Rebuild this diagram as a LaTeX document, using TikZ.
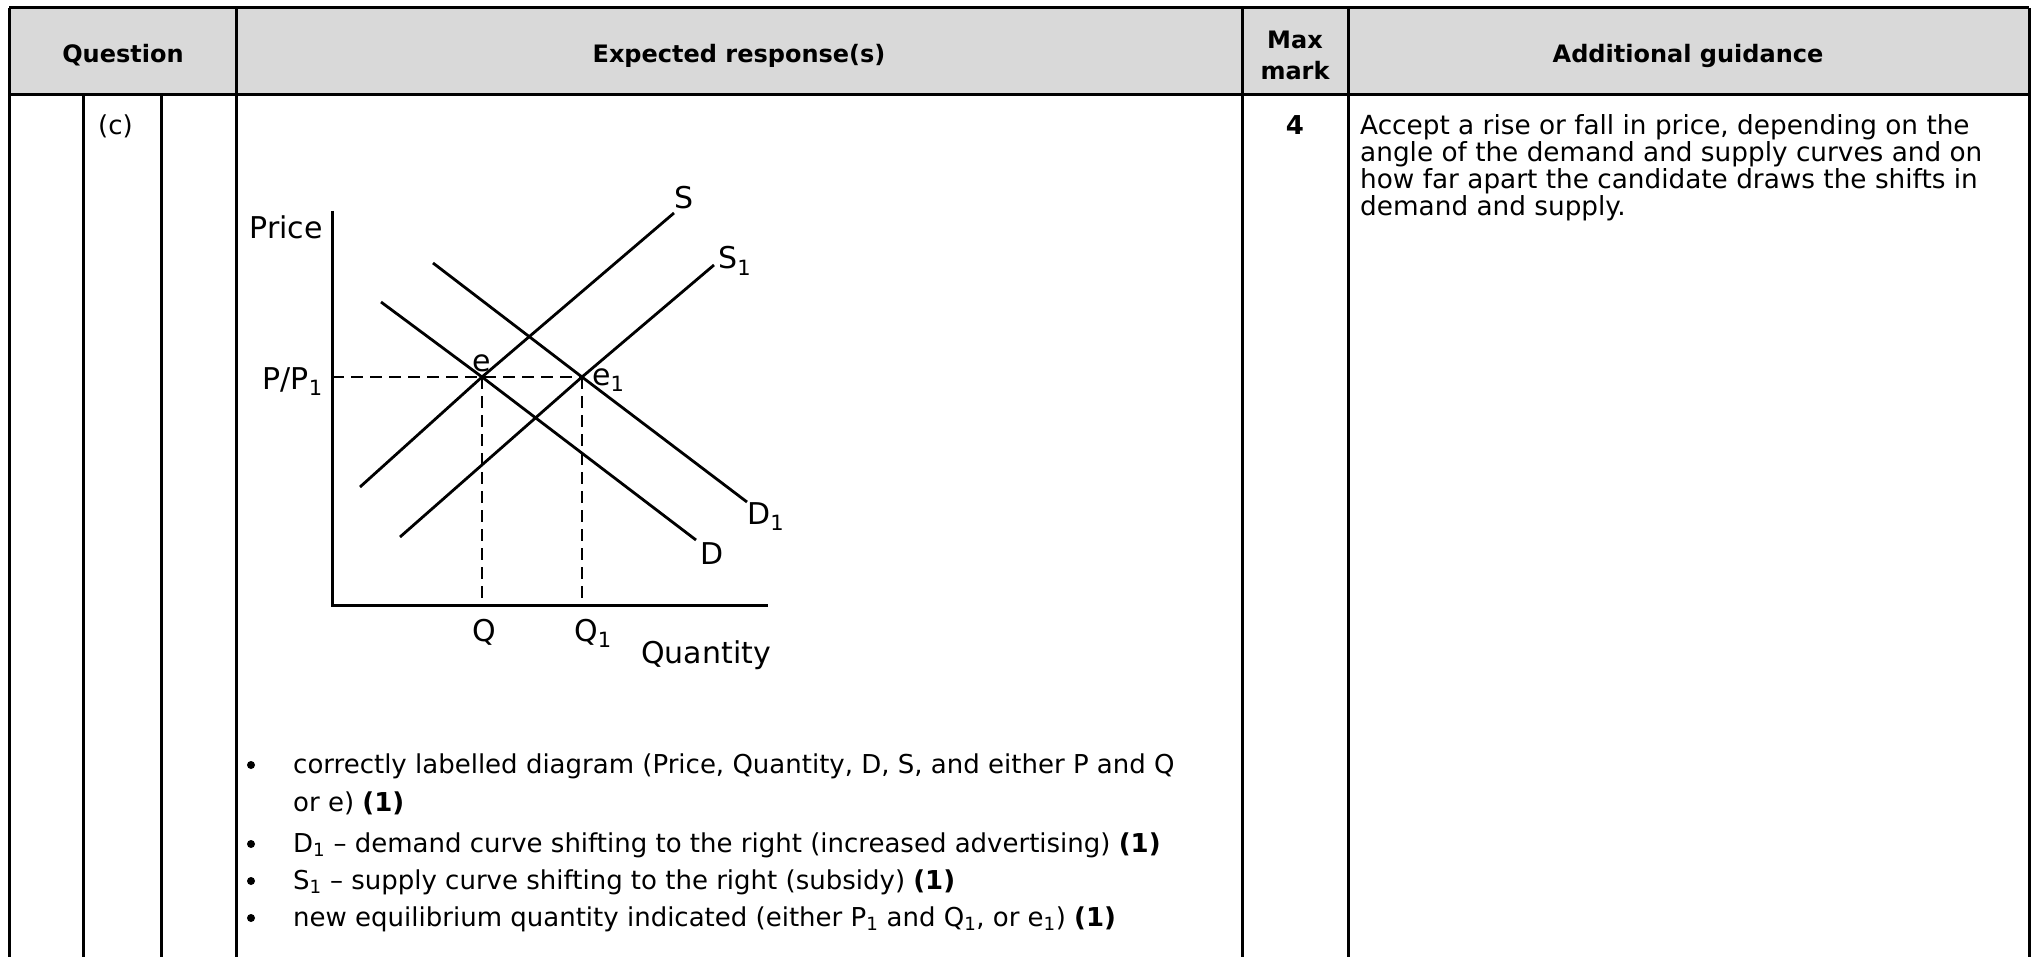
\documentclass[tikz,border=0pt]{standalone}
\usepackage{fontspec}
\setmainfont{DejaVu Sans}
\definecolor{hdrgray}{RGB}{217,217,217}
\begin{document}
\begin{tikzpicture}[x=1pt,y=-1pt,
  tabline/.style={line width=3pt},
  hdr/.style={font=\fontsize{24}{28}\selectfont\bfseries, inner sep=0pt, anchor=base},
  body/.style={font=\fontsize{26}{27}\selectfont, inner sep=0pt, anchor=base west},
  gbody/.style={font=\fontsize{26.3}{27}\selectfont, inner sep=0pt, anchor=base west},
  lbl/.style={font=\fontsize{30}{32}\selectfont, inner sep=0pt},
  curve/.style={line width=2.8pt},
  axisline/.style={line width=3pt},
  guide/.style={line width=2.8pt, dash pattern=on 12pt off 7pt},
  bulletdot/.style={circle, fill=black, inner sep=0pt, minimum size=8pt}
]
\useasboundingbox (0,0) rectangle (2033,957);
% header background
\fill[hdrgray] (9,8) rectangle (2029,95);
% table lines
\draw[tabline] (9,8) -- (2029,8);
\draw[tabline] (9,95) -- (2029,95);
\foreach \xx in {9,236,1242,1348,2029} \draw[tabline] (\xx,8) -- (\xx,957);
\foreach \xx in {83,161} \draw[tabline] (\xx,95) -- (\xx,957);
% header text
\node[hdr] (hq) at (123,63) {Question};
\node[hdr] (hr) at (739,63) {Expected response(s)};
\node[hdr] (hm1) at (1295,49) {Max};
\node[hdr] (hm2) at (1295,80) {mark};
\node[hdr] (hg) at (1688,63) {Additional guidance};
% row
\node[body] (qc) at (98,135) {(c)};
\node[body, font=\fontsize{26}{27}\selectfont\bfseries, anchor=base] (mk) at (1295,135) {4};
\node[gbody] (g1) at (1360,135) {Accept a rise or fall in price, depending on the};
\node[gbody] (g2) at (1360,162) {angle of the demand and supply curves and on};
\node[gbody] (g3) at (1360,189) {how far apart the candidate draws the shifts in};
\node[gbody] (g4) at (1360,216) {demand and supply.};
% graph
\coordinate (O) at (332,605);
\coordinate (ytop) at (332,211);
\coordinate (xend) at (768,605);
\coordinate (e) at (482,377);
\coordinate (e1) at (582,377);
\coordinate (pp) at (332,377);
\coordinate (qq) at (482,605);
\coordinate (qq1) at (582,605);
\draw[axisline] (ytop) -- (O) -- (xend);
\coordinate (s0) at (360,487);  \coordinate (s9) at (674,213);
\coordinate (t0) at (400,537);  \coordinate (t9) at (714,265);
\coordinate (d0) at (381,302);  \coordinate (d9) at (696,540);
\coordinate (f0) at (433,263);  \coordinate (f9) at (747,502);
\draw[curve] (s0) -- (e) -- (s9);
\draw[curve] (t0) -- (e1) -- (t9);
\draw[curve] (d0) -- (e) -- (d9);
\draw[curve] (f0) -- (e1) -- (f9);
\draw[guide] (pp) -- (e1);
\draw[guide] (e) -- (qq);
\draw[guide] (e1) -- (qq1);
\node[lbl, anchor=base east] (price) at (323,239) {Price};
\node[lbl, anchor=base east] (ppl) at (323,389) {P/P\textsubscript{1}};
\node[lbl, anchor=base] (el) at (482,371) {e};
\node[lbl, anchor=base west] (e1l) at (592,385) {e\textsubscript{1}};
\node[lbl, anchor=base] (sl) at (684,209) {S};
\node[lbl, anchor=base west] (s1l) at (718,269) {S\textsubscript{1}};
\node[lbl, anchor=base] (dl) at (712,564) {D};
\node[lbl, anchor=base west] (d1l) at (747,524) {D\textsubscript{1}};
\node[lbl, anchor=base] (ql) at (484,641) {Q};
\node[lbl, anchor=base west] (q1l) at (574,641) {Q\textsubscript{1}};
\node[lbl, anchor=base west] (quant) at (641,663) {Quantity};
% bullets
\foreach \yy/\nm in {765/b1,844/b2,881/b3,918/b4}
  \node[bulletdot] (\nm) at (251,\yy) {};
\node[body] (l1) at (293,773) {correctly labelled diagram (Price, Quantity, D, S, and either P and Q};
\node[body] (l2) at (293,811) {or e) \textbf{(1)}};
\node[body] (l3) at (293,852) {D\textsubscript{1} – demand curve shifting to the right (increased advertising) \textbf{(1)}};
\node[body] (l4) at (293,889) {S\textsubscript{1} – supply curve shifting to the right (subsidy) \textbf{(1)}};
\node[body] (l5) at (293,926) {new equilibrium quantity indicated (either P\textsubscript{1} and Q\textsubscript{1}, or e\textsubscript{1}) \textbf{(1)}};
\end{tikzpicture}
\end{document}
